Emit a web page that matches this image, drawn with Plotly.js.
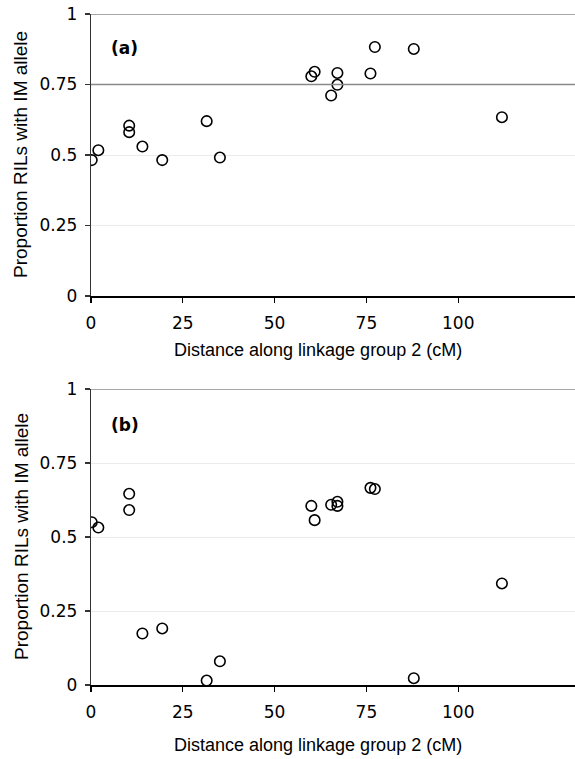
<!DOCTYPE html>
<html>
<head>
<meta charset="utf-8">
<script src="https://cdn.plot.ly/plotly-3.0.1.min.js"></script>
<style>html,body{margin:0;padding:0;background:#fff;}#chart{width:575px;height:759px;}</style>
</head>
<body>
<div id="chart"></div>
<script>
// Marker positions along linkage group 2 (cM) — same markers in both panels
const distanceCM = [0.2, 2.0, 10.4, 10.4, 14.0, 19.4, 31.5, 35.1, 60.0, 60.9, 67.1, 67.1, 65.4, 76.1, 77.3, 87.9, 111.9];
// Panel (a): proportion of RILs with IM allele
const proportionA = [0.482, 0.517, 0.604, 0.581, 0.530, 0.482, 0.620, 0.491, 0.779, 0.795, 0.791, 0.749, 0.711, 0.789, 0.883, 0.876, 0.634];
// Panel (b): proportion of RILs with IM allele
const proportionB = [0.550, 0.532, 0.646, 0.591, 0.174, 0.191, 0.015, 0.080, 0.605, 0.557, 0.619, 0.605, 0.609, 0.666, 0.662, 0.023, 0.343];

const yTickVals = [0, 0.25, 0.5, 0.75, 1];
const yTickText = ['0', '0.25', '0.5', '0.75', '1'];
const xTickVals = [0, 25, 50, 75, 100];
const xTickText = ['0', '25', '50', '75', '100'];
const refLinesA = [1, 0.75];
const refLinesB = [1];
const panelLabels = ['(a)', '(b)'];
const xTitle = 'Distance along linkage group 2 (cM)';
const yTitle = 'Proportion RILs with IM allele';

const marker = {symbol: 'circle-open', size: 10.5, color: '#000', line: {width: 1.6, color: '#000'}};

const traces = [
  {x: distanceCM, y: proportionA, type: 'scatter', mode: 'markers', marker: marker, xaxis: 'x', yaxis: 'y', hoverinfo: 'x+y'},
  {x: distanceCM, y: proportionB, type: 'scatter', mode: 'markers', marker: marker, xaxis: 'x2', yaxis: 'y2', hoverinfo: 'x+y'}
];

const tickFont = {family: 'DejaVu Sans, Verdana, sans-serif', size: 17, color: '#000'};
const xTitleFont = {family: 'Liberation Sans, Arial, sans-serif', size: 18, color: '#000'};
const yTitleFont = {family: 'Liberation Sans, Arial, sans-serif', size: 19, color: '#000'};

function xAxis(anchor) {
  return {
    anchor: anchor, domain: [0, 1], range: [0, 131.8], tickmode: 'array', tickvals: xTickVals, ticktext: xTickText,
    showgrid: false, zeroline: false, showline: true, linecolor: '#000', linewidth: 1.6,
    ticks: 'outside', ticklen: 5, tickwidth: 1.2, tickcolor: '#000', tickfont: tickFont, ticklabelstandoff: 6, automargin: false
  };
}
function yAxis(anchor, domain) {
  return {
    anchor: anchor, domain: domain, range: [0, 1], tickmode: 'array', tickvals: yTickVals, ticktext: yTickText,
    showgrid: true, gridcolor: '#ebebeb', gridwidth: 1, zeroline: false, showline: true, linecolor: '#333', linewidth: 1.2,
    ticks: 'outside', ticklen: 5, tickwidth: 1.2, tickcolor: '#333', tickfont: tickFont, ticklabelstandoff: 4, automargin: false
  };
}

const shapes = [];
refLinesA.forEach(v => shapes.push({type: 'line', xref: 'x domain', yref: 'y', x0: 0, x1: 1, y0: v, y1: v, line: {color: '#8a8a8a', width: 1.5}, layer: 'above'}));
refLinesB.forEach(v => shapes.push({type: 'line', xref: 'x2 domain', yref: 'y2', x0: 0, x1: 1, y0: v, y1: v, line: {color: '#8a8a8a', width: 1.5}, layer: 'above'}));

const labelFont = {family: 'DejaVu Sans, Verdana, sans-serif', size: 17, color: '#000', weight: 'bold'};
const annotations = [
  {text: panelLabels[0], xref: 'x', yref: 'y', x: 5, y: 0.88, xanchor: 'left', yanchor: 'middle', showarrow: false, font: labelFont},
  {text: panelLabels[1], xref: 'x2', yref: 'y2', x: 5, y: 0.88, xanchor: 'left', yanchor: 'middle', showarrow: false, font: labelFont},
  {text: xTitle, xref: 'paper', yref: 'paper', x: (318 - 91)/484, y: 1 - 350/759, xanchor: 'center', yanchor: 'middle', showarrow: false, font: xTitleFont},
  {text: xTitle, xref: 'paper', yref: 'paper', x: (318 - 91)/484, y: 1 - 745/759, xanchor: 'center', yanchor: 'middle', showarrow: false, font: xTitleFont},
  {text: yTitle, xref: 'paper', yref: 'paper', x: (21 - 91)/484, y: 1 - 155/759, xanchor: 'center', yanchor: 'middle', textangle: -90, showarrow: false, font: yTitleFont},
  {text: yTitle, xref: 'paper', yref: 'paper', x: (21 - 91)/484, y: 1 - 537/759, xanchor: 'center', yanchor: 'middle', textangle: -90, showarrow: false, font: yTitleFont}
];

const layout = {
  width: 575, height: 759,
  margin: {l: 91, r: 0, t: 0, b: 0, pad: 0},
  paper_bgcolor: '#fff', plot_bgcolor: '#fff',
  showlegend: false,
  xaxis: xAxis('y'),
  yaxis: yAxis('x', [1 - 296/759, 1 - 14/759]),
  xaxis2: xAxis('y2'),
  yaxis2: yAxis('x2', [1 - 685/759, 1 - 389/759]),
  shapes: shapes,
  annotations: annotations
};

Plotly.newPlot('chart', traces, layout, {displayModeBar: false, staticPlot: true});
</script>
</body>
</html>
